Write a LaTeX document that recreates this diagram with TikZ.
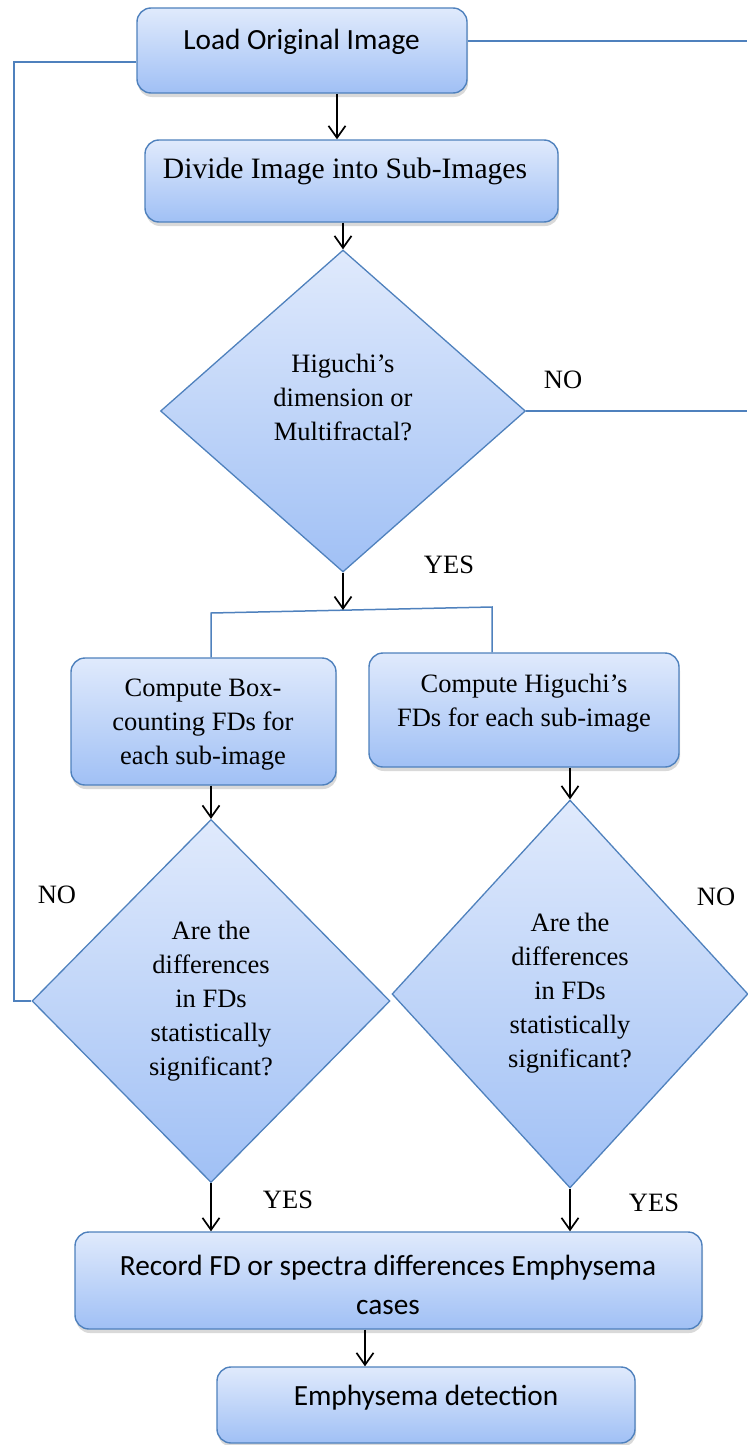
\documentclass[tikz,border=0pt]{standalone}
\usepackage{fontspec}
\setmainfont{Liberation Serif}
\newfontfamily\calfont{Carlito}
\usetikzlibrary{shapes.geometric,arrows.meta,shadows}
\definecolor{edgeblue}{RGB}{79,129,189}
\definecolor{topc}{RGB}{224,234,252}
\definecolor{botc}{RGB}{160,192,245}
\begin{document}
\begin{tikzpicture}[x=1pt,y=-1pt,
  box/.style={draw=edgeblue, line width=1.4pt, rounded corners=14pt,
    top color=topc, bottom color=botc,
    drop shadow={shadow xshift=1pt, shadow yshift=-4pt, opacity=0.3}},
  dia/.style={diamond, draw=edgeblue, line width=1.3pt, top color=topc,
    bottom color=botc, inner sep=0pt},
  serif/.style={font=\fontsize{26.5}{34}\selectfont, align=center, inner sep=0pt},
  bigserif/.style={font=\fontsize{29.6}{36}\selectfont, inner sep=0pt},
  cal/.style={font=\calfont\fontsize{29.3}{39}\selectfont, align=center, inner sep=0pt},
  arr/.style={draw=black, line width=1.7pt,
    -{Straight Barb[length=12pt,width=17pt]}},
  link/.style={draw=edgeblue, line width=1.5pt}]
\useasboundingbox (0,0) rectangle (747,1445);

% shapes
\node[box, minimum width=330pt, minimum height=85pt] (b1) at (302,50.5) {};
\node[box, minimum width=413pt, minimum height=82pt] (b2) at (351.5,181) {};
\node[dia, minimum width=365pt, minimum height=322pt] (d1) at (343,411) {};
\node[box, minimum width=265pt, minimum height=127pt] (b3) at (203.5,721.5) {};
\node[box, minimum width=310pt, minimum height=114pt] (b4) at (524,710) {};
\node[dia, minimum width=358pt, minimum height=363pt] (d2) at (211,1001) {};
\node[dia, minimum width=356pt, minimum height=388pt] (d3) at (570,994) {};
\node[box, minimum width=627pt, minimum height=97pt] (b5) at (388.5,1280.5) {};
\node[box, minimum width=418pt, minimum height=76pt] (b6) at (426,1405) {};

% texts
\node[cal, anchor=base] (t1) at (301.5,49) {Load Original Image};
\node[bigserif, anchor=base] (t2) at (345,178) {Divide Image into Sub-Images};
\node[serif] (td1) at (343,397) {Higuchi’s\\dimension or\\Multifractal?};
\node[serif] (tb3) at (203,725) {Compute Box-\\counting FDs for\\each sub-image};
\node[serif] (tb4) at (524,703) {Compute Higuchi’s\\FDs for each sub-image};
\node[serif] (td2) at (211,1001) {Are the\\differences\\in FDs\\statistically\\significant?};
\node[serif] (td3) at (570,993) {Are the\\differences\\in FDs\\statistically\\significant?};
\node[cal] (tb5) at (388,1285) {Record FD or spectra differences Emphysema\\cases};
\node[cal] (tb6) at (426,1398) {Emphysema detection};

% labels
\node[serif] (no1) at (563,380) {NO};
\node[serif] (yes1) at (449,565) {YES};
\node[serif] (no2) at (57,895) {NO};
\node[serif] (no3) at (716,897) {NO};
\node[serif] (yes2) at (288,1200) {YES};
\node[serif] (yes3) at (654,1203) {YES};

% blue connectors
\coordinate (L1) at (14,62);
\coordinate (L2) at (14,1001);
\coordinate (R1) at (747,41);
\coordinate (R2) at (747,411);
\coordinate (J0) at (343,610);
\coordinate (J1) at (211,613);
\coordinate (J2) at (492,607);
\draw[link] (b1.west |- L1) -- (L1) -- (L2) -- (d2.west);
\draw[link] (b1.east |- R1) -- (R1);
\draw[link] (d1.east) -- (R2);
\draw[link] (b3.north -| J1) -- (J1) -- (J2) -- (b4.north -| J2);

% arrows
\draw[arr] (b1.south -| 337,0) -- (b2.north -| 337,0);
\draw[arr] (b2.south -| d1.north) -- (d1.north);
\draw[arr] (d1.south) -- (J0);
\draw[arr] (b3.south -| d2.north) -- (d2.north);
\draw[arr] (b4.south -| d3.north) -- (d3.north);
\draw[arr] (d2.south) -- (d2.south |- b5.north);
\draw[arr] (d3.south) -- (d3.south |- b5.north);
\draw[arr] (b5.south -| 365,0) -- (b6.north -| 365,0);
\end{tikzpicture}
\end{document}
